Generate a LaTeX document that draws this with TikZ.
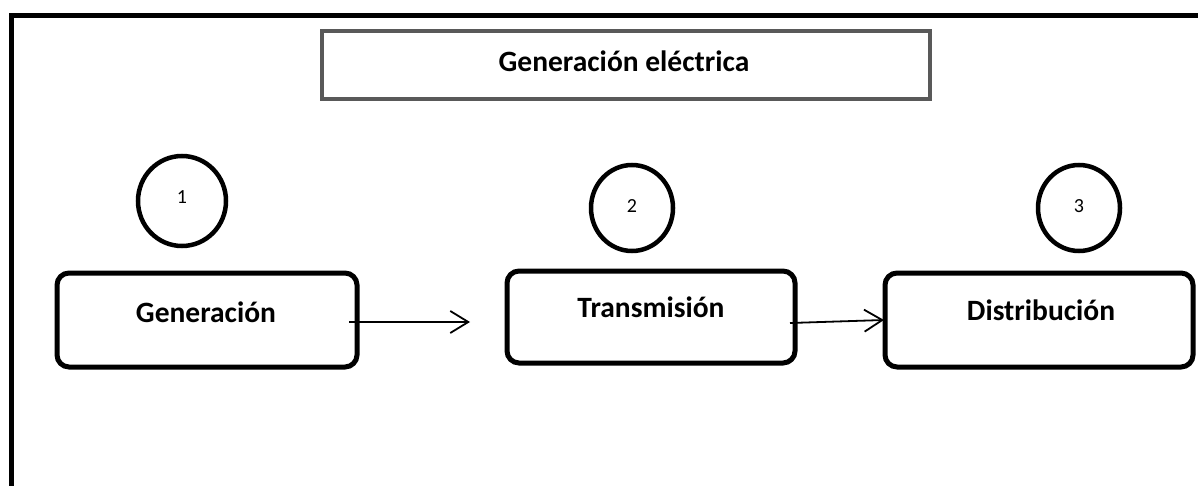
\documentclass[tikz,border=0pt]{standalone}
\usepackage{fontspec}
\setmainfont{Carlito}
\usetikzlibrary{shapes.geometric,arrows.meta}
\begin{document}
\begin{tikzpicture}[x=1pt,y=-1pt,
  titlebox/.style={draw=black!65,line width=4pt,minimum width=608pt,minimum height=68pt,inner sep=0pt},
  stagebox/.style={draw=black,line width=5pt,rounded corners=12pt,inner sep=0pt},
  bigtext/.style={anchor=base,inner sep=0pt,font=\bfseries\fontsize{29.5}{34}\selectfont},
  numtext/.style={anchor=base,inner sep=0pt,font=\fontsize{20}{24}\selectfont},
  numcirc/.style={draw=black,ellipse,line width=4.5pt,inner sep=0pt},
  flow/.style={line width=1.8pt,-{Straight Barb[length=18pt,width=22pt,line width=1.8pt]}}]
\useasboundingbox (0,0) rectangle (1198,486);
\fill[white] (0,0) rectangle (1198,486);
% outer frame (only top and left sides visible)
\draw[line width=5pt] (11,490) -- (11,15.5) -- (1202,15.5);
% title
\node[titlebox] (title) at (626,65) {};
\node[bigtext] (titletext) at (624,72) {Generación eléctrica};
% stage boxes
\draw[stagebox] (57,273) rectangle (357,367);
\node (b1) at (207,320) [minimum width=300pt,minimum height=94pt] {};
\node[bigtext] (t1) at (206,322) {Generación};
\draw[stagebox] (507,271) rectangle (795,363);
\node (b2) at (651,317) [minimum width=288pt,minimum height=92pt] {};
\node[bigtext] (t2) at (651,317) {Transmisión};
\draw[stagebox] (885,273) rectangle (1193,367);
\node (b3) at (1039,320) [minimum width=308pt,minimum height=94pt] {};
\node[bigtext] (t3) at (1041,320) {Distribución};
% number circles
\node[numcirc,minimum width=88pt,minimum height=90pt] (c1) at (182,201) {};
\node[numtext] (n1) at (182,204) {1};
\node[numcirc,minimum width=82pt,minimum height=86pt] (c2) at (632,208) {};
\node[numtext] (n2) at (632,213) {2};
\node[numcirc,minimum width=82pt,minimum height=86pt] (c3) at (1079,208) {};
\node[numtext] (n3) at (1079,213) {3};
% arrows
\coordinate (a1s) at (349,322);
\coordinate (a1e) at (470,322);
\coordinate (a2s) at (790,323);
\coordinate (a2e) at (884,320);
\draw[flow] (a1s) -- (a1e);
\draw[flow] (a2s) -- (a2e);
\end{tikzpicture}
\end{document}
